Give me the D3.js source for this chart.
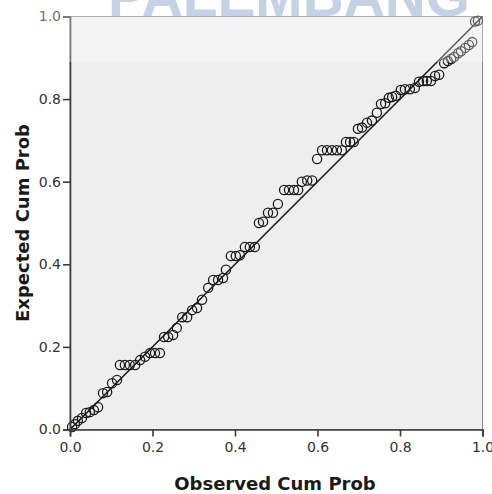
<!DOCTYPE html>
<html>
<head>
<meta charset="utf-8">
<script src="https://cdn.jsdelivr.net/npm/d3@7"></script>
<style>
  body { margin: 0; background: #fff; }
  svg { display: block; }
</style>
</head>
<body>
<div id="pp-plot"></div>
<script>
// Normal P-P plot of regression standardized residual
const observed = [
  0.005, 0.012, 0.019, 0.029, 0.039, 0.048, 0.058, 0.068, 0.080, 0.090,
  0.102, 0.114, 0.121, 0.133, 0.145, 0.158, 0.170, 0.182, 0.194, 0.206,
  0.218, 0.228, 0.238, 0.250, 0.259, 0.272, 0.284, 0.296, 0.308, 0.320,
  0.335, 0.347, 0.359, 0.371, 0.378, 0.390, 0.402, 0.412, 0.424, 0.436,
  0.448, 0.458, 0.468, 0.480, 0.492, 0.504, 0.519, 0.531, 0.543, 0.553,
  0.562, 0.575, 0.587, 0.599, 0.611, 0.623, 0.635, 0.647, 0.659, 0.669,
  0.679, 0.688, 0.698, 0.708, 0.720, 0.732, 0.744, 0.754, 0.764, 0.773,
  0.781, 0.790, 0.802, 0.812, 0.824, 0.836, 0.846, 0.856, 0.865, 0.875,
  0.885, 0.895, 0.907, 0.916, 0.924, 0.931, 0.941, 0.948, 0.958, 0.967,
  0.975, 0.982, 0.989
];
const expected = [
  0.006, 0.013, 0.021, 0.028, 0.040, 0.042, 0.047, 0.054, 0.088, 0.091,
  0.112, 0.120, 0.156, 0.156, 0.156, 0.156, 0.168, 0.176, 0.185, 0.185,
  0.185, 0.224, 0.224, 0.229, 0.246, 0.272, 0.272, 0.289, 0.294, 0.314,
  0.343, 0.362, 0.362, 0.367, 0.387, 0.420, 0.420, 0.422, 0.442, 0.442,
  0.442, 0.500, 0.503, 0.525, 0.525, 0.546, 0.580, 0.580, 0.580, 0.580,
  0.600, 0.603, 0.603, 0.655, 0.676, 0.676, 0.676, 0.676, 0.676, 0.696,
  0.696, 0.696, 0.728, 0.731, 0.743, 0.748, 0.767, 0.788, 0.790, 0.803,
  0.805, 0.808, 0.822, 0.824, 0.824, 0.827, 0.842, 0.844, 0.844, 0.844,
  0.856, 0.859, 0.887, 0.892, 0.897, 0.902, 0.911, 0.916, 0.924, 0.931,
  0.938, 0.988, 0.990
];
const tickValues = [0, 0.2, 0.4, 0.6, 0.8, 1.0];
const xTitle = "Observed Cum Prob";
const yTitle = "Expected Cum Prob";
const watermark = "PALEMBANG";

const width = 492;
const height = 494;
const margin = { top: 16.5, right: 9.5, bottom: 64.5, left: 70 };

const svg = d3.select("#pp-plot")
  .append("svg")
  .attr("width", width)
  .attr("height", height);

const x = d3.scaleLinear().domain([0, 1]).range([margin.left, width - margin.right]);
const y = d3.scaleLinear().domain([0, 1]).range([height - margin.bottom, margin.top]);

// watermark behind the plot
svg.append("text")
  .attr("x", 108)
  .attr("y", 16)
  .attr("textLength", 362)
  .attr("lengthAdjust", "spacingAndGlyphs")
  .style("font-family", "'Liberation Sans', Arial, sans-serif")
  .style("font-weight", "bold")
  .style("font-size", "58px")
  .style("fill", "#a9bfdd")
  .text(watermark);

// plot background and frame
svg.append("rect")
  .attr("x", x(0))
  .attr("y", y(1))
  .attr("width", x(1) - x(0))
  .attr("height", y(0) - y(1))
  .attr("fill", "#eeeeee")
  .attr("stroke", "#8a8a8a")
  .attr("stroke-width", 1);

// reference line
svg.append("line")
  .attr("x1", x(0)).attr("y1", y(0))
  .attr("x2", x(1)).attr("y2", y(1))
  .attr("stroke", "#1a1a1a")
  .attr("stroke-width", 1.6);

// points
const points = observed.map((d, i) => ({ obs: d, exp: expected[i] }));
svg.selectAll(".dot")
  .data(points)
  .enter()
  .append("circle")
  .attr("class", "dot")
  .attr("cx", d => x(d.obs))
  .attr("cy", d => y(d.exp))
  .attr("r", 4.6)
  .attr("fill", "none")
  .attr("stroke", "#1c1c1c")
  .attr("stroke-width", 1.3);

// axes
const xAxis = svg.append("g")
  .attr("transform", `translate(0,${y(0)})`)
  .call(d3.axisBottom(x).tickValues(tickValues).tickFormat(d3.format(".1f")).tickSize(7).tickPadding(6));

const yAxis = svg.append("g")
  .attr("transform", `translate(${x(0)},0)`)
  .call(d3.axisLeft(y).tickValues(tickValues).tickFormat(d3.format(".1f")).tickSize(7).tickPadding(2));

[xAxis, yAxis].forEach(g => {
  g.select(".domain").attr("stroke", "#3a3a3a").attr("stroke-width", 1.6);
  g.selectAll(".tick line").attr("stroke", "#3a3a3a").attr("stroke-width", 1.6);
  g.selectAll(".tick text")
    .style("font-family", "'DejaVu Sans', sans-serif")
    .style("font-size", "14px")
    .style("fill", "#333");
});

// axis titles
svg.append("text")
  .attr("x", 275)
  .attr("y", 490)
  .attr("text-anchor", "middle")
  .style("font-family", "'DejaVu Sans', sans-serif")
  .style("font-weight", "bold")
  .style("font-size", "18px")
  .style("fill", "#1a1a1a")
  .text(xTitle);

svg.append("text")
  .attr("transform", "translate(29,223) rotate(-90)")
  .attr("text-anchor", "middle")
  .style("font-family", "'DejaVu Sans', sans-serif")
  .style("font-weight", "bold")
  .style("font-size", "18px")
  .style("fill", "#1a1a1a")
  .text(yTitle);

// pale band across the top of the image
svg.append("rect")
  .attr("x", 0)
  .attr("y", 0)
  .attr("width", width)
  .attr("height", 62)
  .attr("fill", "#ffffff")
  .attr("opacity", 0.3);
</script>
</body>
</html>
